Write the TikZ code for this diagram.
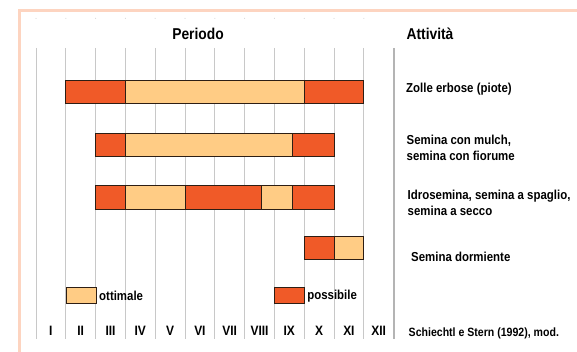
\documentclass[tikz,border=0pt]{standalone}
\usepackage{fontspec}
\setmainfont{Liberation Sans}[FakeStretch=0.88]
\usetikzlibrary{positioning}
\definecolor{possib}{RGB}{240,90,40}
\definecolor{ottim}{RGB}{255,204,133}
\definecolor{cornice}{RGB}{253,212,192}
\definecolor{griglia}{RGB}{200,200,200}
\definecolor{bordo}{RGB}{45,30,20}

\begin{document}
\begin{tikzpicture}[x=1pt,y=-1pt,
  ot/.style={fill=ottim,draw=bordo,line width=0.9pt},
  po/.style={fill=possib,draw=bordo,line width=0.9pt},
  legbox/.style={minimum width=29.8pt,minimum height=16pt,inner sep=0pt},
  mese/.style={font=\bfseries\fontsize{13.6}{15}\selectfont},
  att/.style={font=\bfseries\fontsize{13}{16}\selectfont,align=left,anchor=west,inner sep=0pt},
  head/.style={font=\bfseries\fontsize{15.7}{18}\selectfont}]
\useasboundingbox (0,0) rectangle (577,352);
\draw[cornice,line width=3pt] (19.5,352) -- (19.5,10.5) -- (577,10.5);
% griglia dei mesi
\foreach \i in {0,...,11}{
  \draw[griglia,line width=1pt] ({36+29.8*\i},48) -- ({36+29.8*\i},339);
  \fill[griglia] ({36+29.8*\i},18.3) circle (0.5);
}
\draw[griglia!90!black,line width=1.8pt] (393.6,48) -- (393.6,339);
\foreach \m [count=\i] in {I,II,III,IV,V,VI,VII,VIII,IX,X,XI,XII}
  \node[mese] (m\i) at ({36+29.8*(\i-0.5)},330.5) {\m};
\node[head] (periodo) at (198,34) {Periodo};
\node[head] (attivita) at (430,34) {Attività};
% barre
\begin{scope}[xshift=36pt,x=29.8pt]
  \draw[po] (1,80) rectangle (3,103);
  \draw[ot] (3,80) rectangle (9,103);
  \draw[po] (9,80) rectangle (11,103);
  \draw[po] (2,133) rectangle (3,156);
  \draw[ot] (3,133) rectangle (8.59,156);
  \draw[po] (8.59,133) rectangle (10,156);
  \draw[po] (2,185) rectangle (3,209);
  \draw[ot] (3,185) rectangle (5,209);
  \draw[po] (5,185) rectangle (7.56,209);
  \draw[ot] (7.56,185) rectangle (8.59,209);
  \draw[po] (8.59,185) rectangle (10,209);
  \draw[po] (9,236) rectangle (10,259);
  \draw[ot] (10,236) rectangle (11,259);
  \node[ot,legbox,anchor=north west] (lo) at (1,287.3) {};
  \node[po,legbox,anchor=north west] (lp) at (8,287.3) {};
\end{scope}
\node[att,right=2.5pt of lo] (tot) {ottimale};
\node[att,right=2pt of lp] (tpo) {possibile};
\node[att] (a1) at (406,89.5) {Zolle erbose (piote)};
\node[att] (a2) at (406.5,147.5) {Semina con mulch,\\semina con fiorume};
\node[att] (a3) at (407.5,203) {Idrosemina, semina a spaglio,\\semina a secco};
\node[att] (a4) at (411,257) {Semina dormiente};
\node[att,font=\bfseries\fontsize{12}{14}\selectfont] (fonte) at (408.5,333) {Schiechtl e Stern (1992), mod.};
\end{tikzpicture}
\end{document}
